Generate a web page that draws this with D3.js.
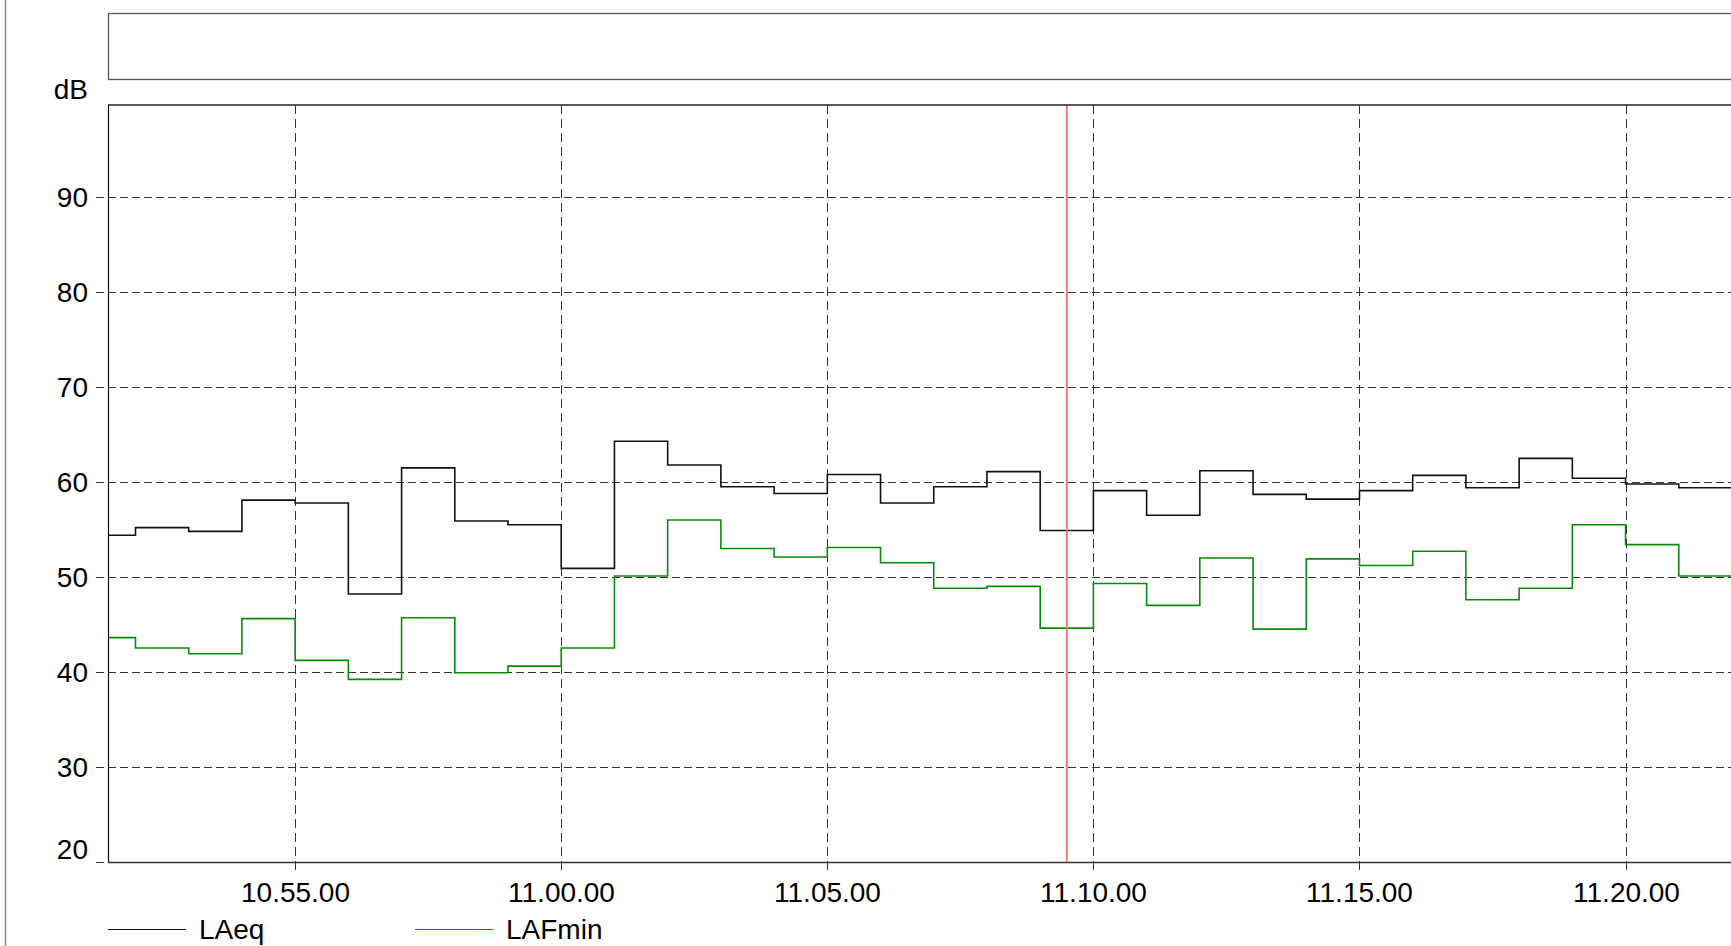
<!DOCTYPE html>
<html>
<head>
<meta charset="utf-8">
<script src="https://cdn.jsdelivr.net/npm/d3@7"></script>
<style>
  html, body { margin: 0; padding: 0; background: #fff; }
  svg { display: block; font-family: "Liberation Sans", Arial, sans-serif; }
</style>
</head>
<body>
<svg id="chart" width="1731" height="946"></svg>
<script>
// One-minute interval start times
const times = ["10:51","10:52","10:53","10:54","10:55","10:56","10:57","10:58","10:59","11:00",
               "11:01","11:02","11:03","11:04","11:05","11:06","11:07","11:08","11:09","11:10",
               "11:11","11:12","11:13","11:14","11:15","11:16","11:17","11:18","11:19","11:20","11:21"];
// Equivalent level per interval (dB)
const laeq = [54.4,55.2,54.8,58.1,57.8,48.2,61.5,55.9,55.5,50.9,
              64.3,61.8,59.5,58.8,60.8,57.8,59.5,61.1,54.9,59.1,
              56.5,61.2,58.7,58.2,59.1,60.7,59.4,62.5,60.4,59.8,59.4];
// Minimum fast-weighted level per interval (dB)
const lafmin = [43.6,42.5,41.9,45.6,41.2,39.2,45.7,39.9,40.6,42.5,
                50.1,56.0,53.0,52.1,53.1,51.5,48.8,49.0,44.6,49.3,
                47.0,52.0,44.5,51.9,51.2,52.7,47.6,48.8,55.5,53.4,50.1];
const yTicks = [20,30,40,50,60,70,80,90];
const xTickLabels = ["10.55.00","11.00.00","11.05.00","11.10.00","11.15.00","11.20.00"];
const viewStart = "10:51:29";
const viewEnd = "11:22:00";
const cursorTime = "11:09:30";
const seriesNames = ["LAeq", "LAFmin"];

const parse = d3.timeParse("%H:%M");
const parseS = d3.timeParse("%H:%M:%S");
const parseTick = d3.timeParse("%H.%M.%S");

const plotL = 108, plotR = 1732, plotT = 105, plotB = 861.5;

const x = d3.scaleTime().domain([parseS(viewStart), parseS(viewEnd)]).range([plotL, plotR]);
const y = d3.scaleLinear().domain([20, 99.75]).range([plotB, plotT]);

const svg = d3.select("#chart");

// outer left rule
svg.append("line").attr("x1", 5.5).attr("x2", 5.5).attr("y1", 0).attr("y2", 946)
  .attr("stroke", "#8a8a8a").attr("stroke-width", 1.5);

// empty header box
svg.append("rect").attr("x", plotL + 0.5).attr("y", 13.5).attr("width", 1700).attr("height", 66)
  .attr("fill", "none").attr("stroke", "#555").attr("stroke-width", 1.3);

svg.append("defs").append("clipPath").attr("id", "plotClip")
  .append("rect").attr("x", plotL).attr("y", plotT).attr("width", plotR - plotL).attr("height", plotB - plotT + 1);

// horizontal grid + labels
const gy = svg.append("g");
yTicks.forEach(v => {
  const yy = Math.round(y(v)) + 0.5;
  gy.append("line").attr("x1", 96).attr("x2", plotR).attr("y1", yy).attr("y2", yy)
    .attr("stroke", "#333").attr("stroke-width", 1).attr("stroke-dasharray", "8,4");
  gy.append("text").attr("x", 88).attr("y", v === 20 ? yy - 4 : yy)
    .attr("text-anchor", "end").attr("dominant-baseline", v === 20 ? "auto" : "central")
    .attr("font-size", 28).attr("fill", "#000").text(v);
});

// vertical grid + labels
const xTicks = xTickLabels.map(s => parseTick(s));
const gx = svg.append("g");
xTicks.forEach((t, i) => {
  const xx = Math.round(x(t)) + 0.5;
  gx.append("line").attr("x1", xx).attr("x2", xx).attr("y1", plotT).attr("y2", 874)
    .attr("stroke", "#333").attr("stroke-width", 1).attr("stroke-dasharray", "9,5");
  gx.append("text").attr("x", xx).attr("y", 902).attr("text-anchor", "middle")
    .attr("font-size", 28).attr("fill", "#000").text(xTickLabels[i]);
});

// series as step lines
const stepData = (vals) => {
  const pts = times.map((t, i) => ({ t: parse(t), v: vals[i] }));
  pts.push({ t: parseS(viewEnd), v: vals[vals.length - 1] });
  return pts;
};
const line = d3.line().x(d => x(d.t)).y(d => y(d.v)).curve(d3.curveStepAfter);
const plot = svg.append("g").attr("clip-path", "url(#plotClip)");
plot.append("path").datum(stepData(lafmin)).attr("d", line)
  .attr("fill", "none").attr("stroke", "#0a8a0a").attr("stroke-width", 1.6);
plot.append("path").datum(stepData(laeq)).attr("d", line)
  .attr("fill", "none").attr("stroke", "#111").attr("stroke-width", 1.6);

// cursor
svg.append("line").attr("x1", x(parseS(cursorTime))).attr("x2", x(parseS(cursorTime)))
  .attr("y1", plotT).attr("y2", plotB)
  .attr("stroke", "#f07878").attr("stroke-width", 2);

// plot frame: top, left, bottom
svg.append("line").attr("x1", plotL).attr("x2", plotR).attr("y1", plotT).attr("y2", plotT)
  .attr("stroke", "#222").attr("stroke-width", 1.6);
svg.append("line").attr("x1", plotL + 0.5).attr("x2", plotL + 0.5).attr("y1", plotT).attr("y2", plotB + 1)
  .attr("stroke", "#111").attr("stroke-width", 1.2);
svg.append("line").attr("x1", plotL).attr("x2", plotR).attr("y1", plotB + 1).attr("y2", plotB + 1)
  .attr("stroke", "#333").attr("stroke-width", 1.6);

// unit label
svg.append("text").attr("x", 88).attr("y", 99).attr("text-anchor", "end")
  .attr("font-size", 28).attr("fill", "#000").text("dB");

// legend
const legendX = [108, 415];
const legendColor = ["#111", "#0a8a0a"];
seriesNames.forEach((n, i) => {
  svg.append("line").attr("x1", legendX[i]).attr("x2", legendX[i] + 78).attr("y1", 929.5).attr("y2", 929.5)
    .attr("stroke", legendColor[i]).attr("stroke-width", 1.2);
  svg.append("text").attr("x", legendX[i] + 91).attr("y", 939).attr("font-size", 28).attr("fill", "#000").text(n);
});
</script>
</body>
</html>
